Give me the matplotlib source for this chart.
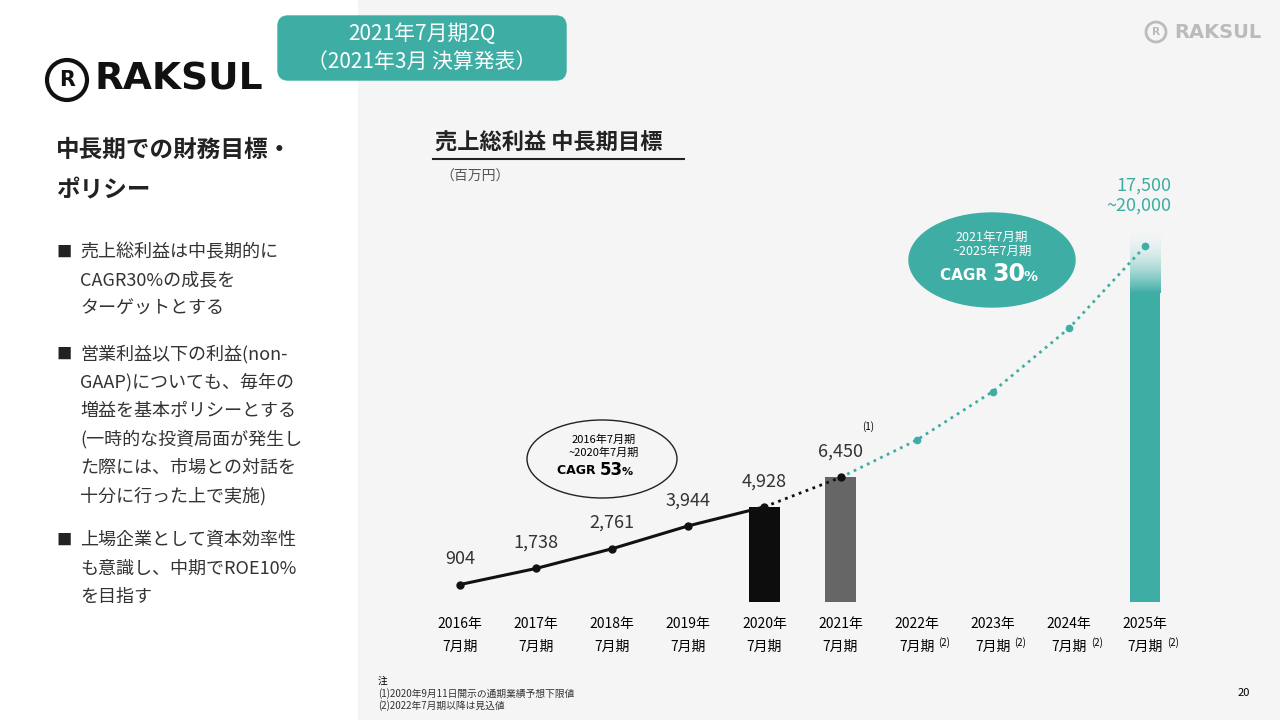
import numpy as np
import matplotlib.pyplot as plt
from matplotlib.patches import FancyBboxPatch, Ellipse, Rectangle, Circle
from matplotlib.colors import LinearSegmentedColormap

plt.rcParams['font.family'] = 'Noto Sans CJK JP'

# data
years = ['2016年', '2017年', '2018年', '2019年', '2020年', '2021年', '2022年', '2023年', '2024年', '2025年']
actual = [904, 1738, 2761, 3944, 4928]
plan_2021 = 6450
forecast = [6450, 8385, 10900, 14170, 18420]
bar_low, bar_high = 16000, 19500

TEAL = '#3eaea5'
W, H = 1280, 720

fig = plt.figure(figsize=(12.8, 7.2), dpi=100)
bg = fig.add_axes([0, 0, 1, 1])
bg.set_xlim(0, W)
bg.set_ylim(H, 0)
bg.axis('off')
bg.add_patch(Rectangle((358, 0), W - 358, H, color='#f5f5f5', zorder=0))

# header box
bg.add_patch(FancyBboxPatch((278, 16), 288, 64, boxstyle='round,pad=0,rounding_size=10', color=TEAL))
bg.text(422, 34, '2021年7月期2Q', color='white', fontsize=15, ha='center', va='center')
bg.text(422, 62, '（2021年3月 決算発表）', color='white', fontsize=15, ha='center', va='center')

# logos
def logo(cx, cy, r, size, color, lw):
    bg.add_patch(Circle((cx, cy), r, fill=False, ec=color, lw=lw))
    bg.text(cx, cy, 'R', fontsize=size * 0.55, fontweight='bold', ha='center', va='center', color=color,
            family='DejaVu Sans')
    bg.text(cx + r + 8, cy, 'RAKSUL', fontsize=size, fontweight='bold', va='center', color=color,
            family='DejaVu Sans')

logo(67, 80, 20, 27, '#111111', 3)
logo(1156, 32, 10, 14, '#bbbbbb', 2)

bg.text(56, 150, '中長期での財務目標・', fontsize=17, fontweight='bold', va='center', color='#222222')
bg.text(56, 190, 'ポリシー', fontsize=17, fontweight='bold', va='center', color='#222222')
bullets = [
    (252, ['売上総利益は中長期的に', 'CAGR30%の成長を', 'ターゲットとする']),
    (354, ['営業利益以下の利益(non-', 'GAAP)についても、毎年の', '増益を基本ポリシーとする', '(一時的な投資局面が発生し', 'た際には、市場との対話を', '十分に行った上で実施)']),
    (540, ['上場企業として資本効率性', 'も意識し、中期でROE10%', 'を目指す']),
]
for y0, lines in bullets:
    bg.text(56, y0, '■', fontsize=11, va='center', color='#222222')
    for i, ln in enumerate(lines):
        bg.text(80, y0 + i * 28.5, ln, fontsize=13, va='center', color='#333333')

bg.text(435, 143, '売上総利益 中長期目標', fontsize=16, fontweight='bold', va='center', color='#222222')
bg.plot([433, 684], [159, 159], color='#222222', lw=1.5)
bg.text(440, 177, '（百万円）', fontsize=10, va='center', color='#555555')

bg.text(378, 681, '注', fontsize=7, va='center')
bg.text(378, 694, '(1)2020年9月11日開示の通期業績予想下限値', fontsize=7, va='center', color='#333333')
bg.text(378, 706, '(2)2022年7月期以降は見込値', fontsize=7, va='center', color='#333333')
bg.text(1250, 693, '20', fontsize=8, ha='right', va='center')

# chart axes
x0, x9 = 460, 1145
step = (x9 - x0) / 9
left_px, right_px, base_px, top_px = 420, 1190, 602, 100
ax = fig.add_axes([left_px / W, (H - base_px) / H, (right_px - left_px) / W, (base_px - top_px) / H])
xlim = ((left_px - x0) / step, (right_px - x0) / step)
ax.axis('off')
ax.patch.set_alpha(0)

x = np.arange(len(years))
ax.bar(4, actual[4], width=0.4, color='#0d0d0d', zorder=1)
ax.bar(5, plan_2021, width=0.4, color='#666666', zorder=1)
# 2025 bar with gradient top
ax.bar(9, bar_low, width=0.4, color=TEAL, zorder=1)
grad = np.linspace(1, 0, 200).reshape(-1, 1)
cmap = LinearSegmentedColormap.from_list('g', [(1, 1, 1, 0), TEAL])
ax.imshow(grad, extent=(8.8, 9.2, bar_low, bar_high), aspect='auto', cmap=cmap, zorder=1, origin='lower')
ax.set_xlim(*xlim)
ax.set_ylim(0, 26000)

ax.plot(x[:5], actual, color='#111111', lw=2.2, marker='o', ms=5, zorder=3)
ax.plot([4, 5], [actual[4], plan_2021], color='#111111', lw=2, ls=':', zorder=3)
ax.plot(5, plan_2021, 'o', color='#111111', ms=5, zorder=4)
ax.plot(x[5:], forecast, color=TEAL, lw=2, ls=':', zorder=3)
ax.plot(x[6:], forecast[1:], 'o', color=TEAL, ms=4.5, zorder=4)

for i, v in enumerate(actual + [plan_2021]):
    ax.annotate(f'{v:,}', (i, v), xytext=(0, 12), textcoords='offset points',
                ha='center', va='bottom', fontsize=13, color='#333333')
ax.annotate('(1)', (5, plan_2021), xytext=(20, 34), textcoords='offset points', fontsize=7, ha='center')
ax.annotate('17,500\n~20,000', (9, bar_high), xytext=(19, 8), textcoords='offset points',
            ha='right', va='bottom', fontsize=13, color=TEAL, linespacing=1.1)

for i, yl in enumerate(years):
    ax.annotate(yl, (i, 0), xytext=(0, -16), textcoords='offset points', ha='center', va='center', fontsize=10)
    ax.annotate('7月期', (i, 0), xytext=(0, -32), textcoords='offset points', ha='center', va='center', fontsize=10)
    if i >= 6:
        ax.annotate('(2)', (i, 0), xytext=(20, -29), textcoords='offset points', ha='center', va='center', fontsize=7)

# CAGR ellipses
bg.add_patch(Ellipse((602, 459), 150, 78, fill=False, ec='#222222', lw=1))
bg.text(604, 440, '2016年7月期', fontsize=8, ha='center', va='center')
bg.text(604, 453, '~2020年7月期', fontsize=8, ha='center', va='center')
bg.text(600, 471, 'CAGR ', fontsize=9, fontweight='bold', ha='right', va='center', family='DejaVu Sans')
bg.text(600, 470, '53', fontsize=12, fontweight='bold', ha='left', va='center', family='DejaVu Sans')
bg.text(622, 472, '%', fontsize=8, fontweight='bold', ha='left', va='center', family='DejaVu Sans')

bg.add_patch(Ellipse((992, 260), 166, 94, color=TEAL))
bg.text(992, 237, '2021年7月期', fontsize=9, ha='center', va='center', color='white')
bg.text(992, 251, '~2025年7月期', fontsize=9, ha='center', va='center', color='white')
bg.text(992, 276, 'CAGR ', fontsize=11, fontweight='bold', ha='right', va='center', color='white', family='DejaVu Sans')
bg.text(992, 274, '30', fontsize=17, fontweight='bold', ha='left', va='center', color='white', family='DejaVu Sans')
bg.text(1024, 277, '%', fontsize=10, fontweight='bold', ha='left', va='center', color='white', family='DejaVu Sans')

fig.savefig('out.png', dpi=100)
